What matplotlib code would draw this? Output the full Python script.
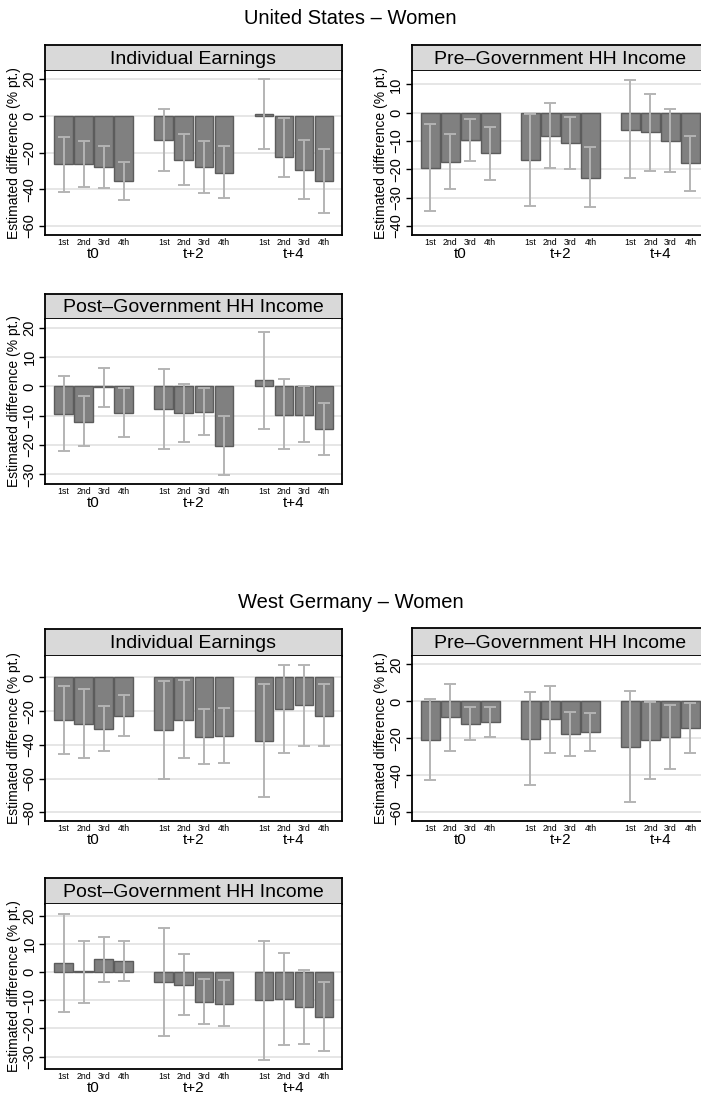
import numpy as np
import matplotlib
matplotlib.use("Agg")
import matplotlib.pyplot as plt

plt.rcParams['font.family'] = ['Liberation Sans', 'DejaVu Sans']

W, H = 701, 1094

quarters = ['1st', '2nd', '3rd', '4th']
periods = ['t0', 't+2', 't+4']

# United States - Women
us_earn = [-26.4, -26.2, -28.0, -35.8, -13.1, -24.0, -28.0, -30.9, 1.0, -22.5, -29.8, -35.8]
us_earn_hi = [-11.6, -13.5, -16.7, -25.3, 4.0, -10.0, -13.6, -16.7, 20.0, -1.3, -13.0, -18.0]
us_earn_lo = [-41.3, -38.9, -39.1, -45.8, -30.0, -37.6, -42.2, -44.7, -18.0, -33.6, -45.5, -53.0]

us_pre = [-19.4, -17.3, -9.6, -14.4, -16.8, -8.1, -10.7, -22.9, -6.0, -6.9, -9.9, -17.9]
us_pre_hi = [-3.9, -7.4, -2.2, -4.9, -0.5, 3.4, -1.5, -12.3, 11.4, 6.7, 1.2, -8.1]
us_pre_lo = [-34.9, -27.0, -17.0, -23.7, -32.9, -19.7, -20.0, -33.2, -23.2, -20.7, -20.8, -27.5]

us_post = [-9.4, -12.0, -0.3, -9.1, -7.8, -9.2, -8.6, -20.3, 2.3, -9.7, -9.7, -14.6]
us_post_hi = [3.4, -3.4, 6.3, -0.7, 6.0, 0.8, -0.7, -10.0, 18.6, 2.5, 0.3, -5.7]
us_post_lo = [-21.9, -20.3, -7.0, -17.1, -21.2, -18.9, -16.6, -30.2, -14.6, -21.5, -19.0, -23.5]

# West Germany - Women
wg_earn = [-25.0, -27.7, -30.3, -22.8, -31.3, -25.0, -35.2, -34.5, -37.4, -19.0, -16.6, -22.6]
wg_earn_hi = [-5.1, -7.1, -17.0, -10.5, -2.4, -1.8, -19.0, -18.4, -3.6, 7.5, 7.1, -4.0]
wg_earn_lo = [-45.1, -47.7, -43.6, -34.5, -60.0, -47.7, -51.1, -50.5, -71.1, -45.0, -40.4, -40.4]

wg_pre = [-20.7, -8.5, -12.0, -11.3, -20.2, -9.8, -17.6, -16.7, -24.7, -21.1, -19.1, -14.2]
wg_pre_hi = [1.5, 9.6, -3.3, -2.9, 5.1, 8.2, -5.6, -6.5, 5.8, -0.4, -2.2, -0.7]
wg_pre_lo = [-42.7, -27.1, -20.7, -19.5, -45.3, -27.8, -29.5, -27.1, -54.7, -41.8, -36.4, -27.8]

wg_post = [3.4, 0.35, 4.6, 4.0, -3.6, -4.5, -10.5, -11.2, -10.0, -9.6, -12.5, -15.8]
wg_post_hi = [20.5, 11.1, 12.5, 11.2, 15.8, 6.5, -2.5, -2.9, 11.1, 6.8, 0.8, -3.5]
wg_post_lo = [-14.1, -11.1, -3.4, -3.3, -22.8, -15.3, -18.4, -19.3, -31.3, -26.0, -25.6, -27.9]

fig = plt.figure(figsize=(W / 100, H / 100), dpi=100)

bar_x = np.array([g * 5 + i for g in range(3) for i in range(4)])


def panel(left, top_strip, bot_strip, bottom, title, vals, hi, lo, yticks, ylim, width=297):
    # strip with the panel title
    sax = fig.add_axes([left / W, 1 - bot_strip / H, width / W, (bot_strip - top_strip) / H])
    sax.set_facecolor('#d9d9d9')
    sax.set_xticks([])
    sax.set_yticks([])
    for s in sax.spines.values():
        s.set_linewidth(1.3)
    sax.text(0.5, 0.45, title, ha='center', va='center', fontsize=14, transform=sax.transAxes)

    ax = fig.add_axes([left / W, 1 - bottom / H, width / W, (bottom - bot_strip) / H])
    vals = np.array(vals)
    hi = np.array(hi)
    lo = np.array(lo)
    ax.bar(bar_x, vals, width=0.92, color='#808080', edgecolor='#5c5c5c', linewidth=1.0, zorder=2)
    ax.errorbar(bar_x, (hi + lo) / 2, yerr=(hi - lo) / 2, fmt='none', ecolor='#b4b4b4',
                elinewidth=1.4, capsize=4.5, capthick=1.4, zorder=3)
    ax.set_xlim(-0.93, 13.91)
    ax.set_ylim(*ylim)
    ax.set_yticks(yticks)
    ax.set_yticklabels([f"{t:g}".replace('-', '\u2212') for t in yticks], rotation=90, va='center', fontsize=10.5)
    ax.yaxis.grid(True, color='#e4e4e4', linewidth=1.3, zorder=0)
    ax.set_axisbelow(True)
    ax.tick_params(axis='y', length=4, width=1, pad=2)
    ax.set_xticks(bar_x)
    ax.set_xticklabels(quarters * 3, fontsize=6.3)
    ax.tick_params(axis='x', length=0, pad=2.5)
    for g, p in enumerate(periods):
        ax.text(g * 5 + 1.5, -0.072, p, ha='center', va='top', fontsize=11,
                transform=ax.get_xaxis_transform())
    for s in ax.spines.values():
        s.set_linewidth(1.3)
    ax.spines['top'].set_visible(False)
    ax.set_ylabel('Estimated difference (% pt.)', fontsize=10, labelpad=1)
    return ax


fig.text(0.5, 1 - 18 / H, 'United States \u2013 Women', ha='center', va='center', fontsize=14.5)
panel(45, 45, 71, 235, 'Individual Earnings', us_earn, us_earn_hi, us_earn_lo,
      [-60, -40, -20, 0, 20], (-65, 24.5))
panel(411.7, 45, 71, 235, 'Pre\u2013Government HH Income', us_pre, us_pre_hi, us_pre_lo,
      [-40, -30, -20, -10, 0, 10], (-43.2, 14.7))
panel(45, 294, 319, 484, 'Post\u2013Government HH Income', us_post, us_post_hi, us_post_lo,
      [-30, -20, -10, 0, 10, 20], (-33.3, 23.0))

fig.text(0.5, 1 - 603 / H, 'West Germany \u2013 Women', ha='center', va='center', fontsize=14.5)
panel(45, 629, 656, 821, 'Individual Earnings', wg_earn, wg_earn_hi, wg_earn_lo,
      [-80, -60, -40, -20, 0], (-85.1, 12.7))
panel(411.7, 628, 656, 821, 'Pre\u2013Government HH Income', wg_pre, wg_pre_hi, wg_pre_lo,
      [-60, -40, -20, 0, 20], (-64.8, 24.6))
panel(45, 878, 904, 1069, 'Post\u2013Government HH Income', wg_post, wg_post_hi, wg_post_lo,
      [-30, -20, -10, 0, 10, 20], (-34.4, 24.2))

fig.savefig('out.png', dpi=100)
